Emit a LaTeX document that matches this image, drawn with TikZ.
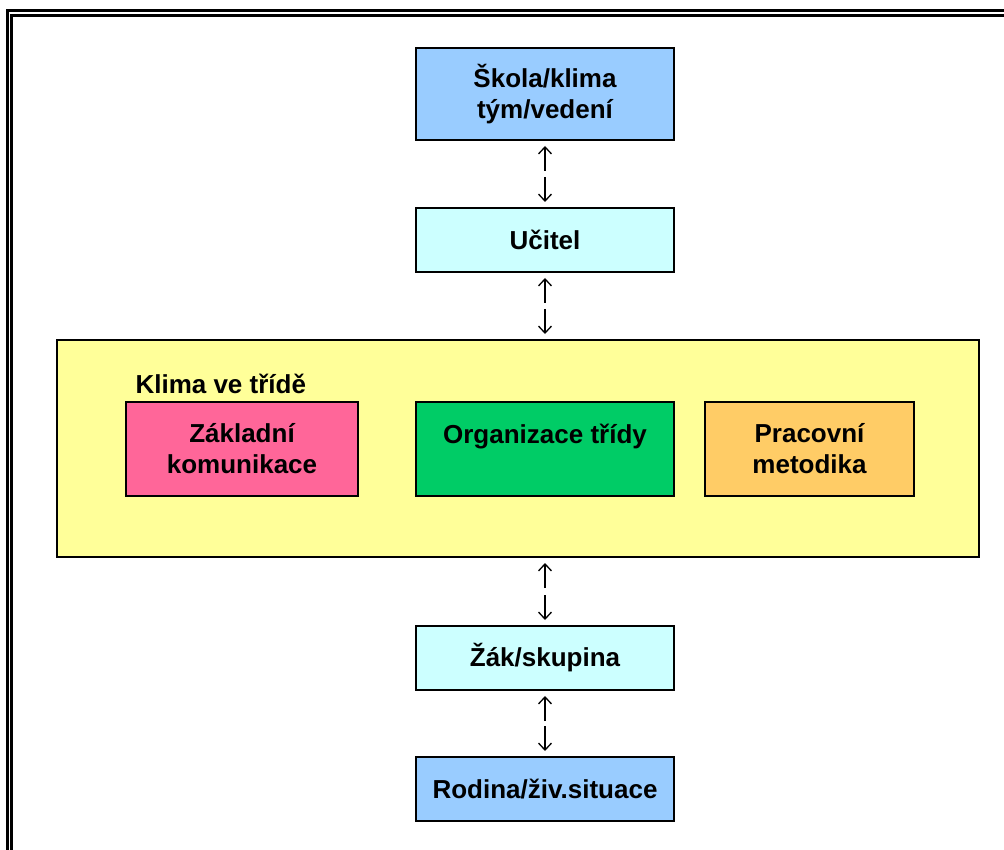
\documentclass[tikz,border=0pt]{standalone}
\usepackage{fontspec}
\setmainfont{Liberation Sans}
\usetikzlibrary{arrows.meta}
\definecolor{boxblue}{HTML}{99CCFF}
\definecolor{boxcyan}{HTML}{CCFFFF}
\definecolor{boxyellow}{HTML}{FFFF99}
\definecolor{boxpink}{HTML}{FF6699}
\definecolor{boxgreen}{HTML}{00CC66}
\definecolor{boxorange}{HTML}{FFCC66}
\tikzset{
  box/.style={draw=black, line width=2pt, rectangle, align=center,
    font=\bfseries\fontsize{26}{31}\selectfont, inner sep=0pt},
  arr/.style={-{Straight Barb[length=7pt,width=13pt]}, line width=1.3pt},
}

\begin{document}
\begin{tikzpicture}[x=1pt, y=-1pt]
  \useasboundingbox (0,0) rectangle (1004,850);
  % Double frame (top and left)
  \draw[line width=3pt] (7,900) |- (1050,11);
  \draw[line width=2.5pt] (11.5,900) |- (1050,15.5);

  % Main boxes
  \node[box, fill=boxblue, minimum width=258pt, minimum height=92pt] (skola) at (545,94) {Škola/klima\\tým/vedení};
  \node[box, fill=boxcyan, minimum width=258pt, minimum height=64pt] (ucitel) at (545,240) {Učitel};
  \node[box, fill=boxyellow, minimum width=922pt, minimum height=217pt] (klima) at (518,448.5) {};
  \node[anchor=base west, font=\bfseries\fontsize{26}{31}\selectfont] (klimatext) at (132,393) {Klima ve třídě};
  \node[box, fill=boxpink, minimum width=232pt, minimum height=94pt] (zakl) at (242,449) {Základní\\komunikace};
  \node[box, fill=boxgreen, minimum width=258pt, minimum height=94pt] (org) at (545,449) {Organizace třídy\\\phantom{x}};
  \node[box, fill=boxorange, minimum width=209pt, minimum height=94pt] (prac) at (809.5,449) {Pracovní\\metodika};
  \node[box, fill=boxcyan, minimum width=258pt, minimum height=64pt] (zak) at (545,658) {Žák/skupina};
  \node[box, fill=boxblue, minimum width=258pt, minimum height=64pt] (rodina) at (545,789) {Rodina/živ.situace};

  % Arrows between levels
  \draw[arr] ([yshift=-30pt]skola.south) -- ([yshift=-5pt]skola.south);
  \draw[arr] ([yshift=30pt]ucitel.north) -- ([yshift=5pt]ucitel.north);
  \draw[arr] ([yshift=-30pt]ucitel.south) -- ([yshift=-5pt]ucitel.south);
  \draw[arr] ([yshift=30pt]klima.north -| ucitel.south) -- ([yshift=5pt]klima.north -| ucitel.south);
  \draw[arr] ([yshift=-30pt]klima.south -| zak.north) -- ([yshift=-5pt]klima.south -| zak.north);
  \draw[arr] ([yshift=30pt]zak.north) -- ([yshift=5pt]zak.north);
  \draw[arr] ([yshift=-30pt]zak.south) -- ([yshift=-5pt]zak.south);
  \draw[arr] ([yshift=30pt]rodina.north) -- ([yshift=5pt]rodina.north);
\end{tikzpicture}
\end{document}
